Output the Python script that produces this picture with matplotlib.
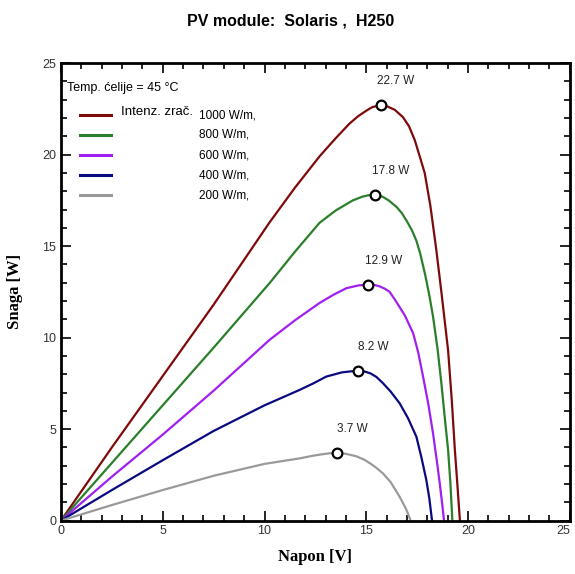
import matplotlib.pyplot as plt
from matplotlib.ticker import MultipleLocator

plt.rcParams["font.family"] = ["Liberation Sans Narrow", "Liberation Sans", "DejaVu Sans"]

# voltage [V] / power [W]
v1000 = [0, 2.5, 5, 7.5, 10.25, 11.5, 12.7, 13.5, 14.18, 14.6, 15.0, 15.3, 15.7, 16.0,
         16.4, 16.8, 17.1, 17.38, 17.6, 17.87, 18.15, 18.44, 18.7, 19.02, 19.2, 19.35, 19.48, 19.6]
p1000 = [0, 4.0, 7.9, 11.8, 16.3, 18.2, 19.9, 20.9, 21.7, 22.1, 22.4, 22.6, 22.7, 22.65,
         22.45, 22.05, 21.55, 20.8, 20.0, 19.0, 17.2, 14.8, 12.4, 9.3, 6.6, 3.9, 1.9, 0]

v800 = [0, 2.5, 5, 7.5, 10.25, 11.5, 12.7, 13.5, 14.34, 14.8, 15.1, 15.43, 15.8, 16.1,
        16.48, 16.75, 17.0, 17.25, 17.46, 17.65, 17.9, 18.1, 18.28, 18.5, 18.69, 18.85, 19.02, 19.13, 19.23]
p800 = [0, 3.15, 6.3, 9.45, 12.98, 14.7, 16.27, 16.95, 17.5, 17.7, 17.78, 17.8, 17.7, 17.5,
        17.15, 16.8, 16.35, 15.85, 15.3, 14.6, 13.4, 12.3, 11.15, 9.4, 7.5, 5.7, 3.86, 2.1, 0]

v600 = [0, 2.5, 5, 7.5, 10.25, 11.5, 12.7, 13.4, 14.02, 14.6, 15.08, 15.4, 15.66, 15.9,
        16.15, 16.48, 16.9, 17.3, 17.55, 17.79, 18.05, 18.28, 18.45, 18.61, 18.72, 18.82]
p600 = [0, 2.4, 4.7, 7.1, 9.88, 10.95, 11.89, 12.35, 12.7, 12.85, 12.9, 12.88, 12.8, 12.68,
        12.5, 11.95, 11.2, 10.25, 9.2, 7.87, 6.35, 4.77, 3.4, 2.04, 1.0, 0]

v400 = [0, 2.5, 5, 7.5, 10, 11.72, 12.4, 13.03, 13.8, 14.59, 14.9, 15.2, 15.5, 15.82,
        16.2, 16.64, 17.05, 17.46, 17.7, 17.95, 18.1, 18.23]
p400 = [0, 1.67, 3.3, 4.9, 6.3, 7.14, 7.5, 7.87, 8.1, 8.2, 8.15, 8.05, 7.85, 7.51,
        7.05, 6.41, 5.6, 4.59, 3.5, 2.22, 1.2, 0]

v200 = [0, 2.5, 5, 7.5, 10, 11.72, 12.4, 12.8, 13.2, 13.58, 14.0, 14.5, 14.9, 15.2,
        15.5, 15.82, 16.2, 16.64, 16.95, 17.18]
p200 = [0, 0.85, 1.67, 2.45, 3.1, 3.40, 3.55, 3.62, 3.68, 3.7, 3.65, 3.52, 3.33, 3.12,
        2.88, 2.58, 2.1, 1.3, 0.65, 0]

irradiance = ["1000 W/m\u201a", "800 W/m\u201a", "600 W/m\u201a", "400 W/m\u201a", "200 W/m\u201a"]
peak_v = [15.7, 15.43, 15.08, 14.59, 13.58]
peak_p = [22.7, 17.8, 12.9, 8.2, 3.7]
peak_labels = ["22.7 W", "17.8 W", "12.9 W", "8.2 W", "3.7 W"]
major_ticks = [0, 5, 10, 15, 20, 25]

colors = ["#7f0a0a", "#2a7f2a", "#a020f0", "#0a0a80", "#9a9a9a"]
curves = [(v1000, p1000), (v800, p800), (v600, p600), (v400, p400), (v200, p200)]

fig = plt.figure(figsize=(5.75, 5.74), dpi=100)
ax = fig.add_axes([0.106, 0.093, 0.885, 0.797])

for (v, p), c in zip(curves, colors):
    ax.plot(v, p, color=c, lw=1.6, zorder=2)

ax.plot(peak_v, peak_p, "o", ms=7, mfc="white", mec="black", mew=1.6, zorder=3)
for x, y, s in zip(peak_v, peak_p, peak_labels):
    ax.annotate(s, (x, y), xytext=(11, 13), textcoords="offset points",
                ha="center", va="bottom", fontsize=8.5, color="#222222")

ax.set_xlim(0, 25)
ax.set_ylim(0, 25)
ax.set_xticks(major_ticks, [str(t) for t in major_ticks])
ax.set_yticks(major_ticks, [str(t) for t in major_ticks])
ax.xaxis.set_minor_locator(MultipleLocator(1))
ax.yaxis.set_minor_locator(MultipleLocator(1))
ax.tick_params(which="both", direction="in", top=True, right=True, width=1.2,
               labelsize=9, labelcolor="#333333")
ax.tick_params(which="major", length=7)
ax.tick_params(which="minor", length=4)
for sp in ax.spines.values():
    sp.set_linewidth(2)

# last x label sits on the figure edge, keep it inside
ax.xaxis.get_major_ticks()[-1].label1.set_horizontalalignment("right")

# legend block, drawn by hand in axes coords
ax.text(0.012, 0.945, "Temp. \u0107elije = 45 \u00b0C", transform=ax.transAxes,
        fontsize=9, va="center", ha="left")
ax.text(0.118, 0.893, "Intenz. zra\u010d.", transform=ax.transAxes,
        fontsize=9.5, va="center", ha="left")
leg_y = [0.886, 0.843, 0.799, 0.755, 0.711]
for y, c, s in zip(leg_y, colors, irradiance):
    ax.plot([0.037, 0.098], [y, y], color=c, lw=2.2, transform=ax.transAxes)
    ax.text(0.272, y, s, transform=ax.transAxes, fontsize=8.5, va="center", ha="left")

fig.text(0.505, 0.963, "PV module:  Solaris ,  H250", ha="center", va="center",
         fontsize=11.5, fontweight="bold")
ax.set_xlabel("Napon [V]", family="Liberation Serif", fontweight="bold", fontsize=12,
              labelpad=8)
ax.set_ylabel("Snaga [W]", family="Liberation Serif", fontweight="bold", fontsize=12,
              labelpad=14)

fig.savefig("out.png", dpi=100)
